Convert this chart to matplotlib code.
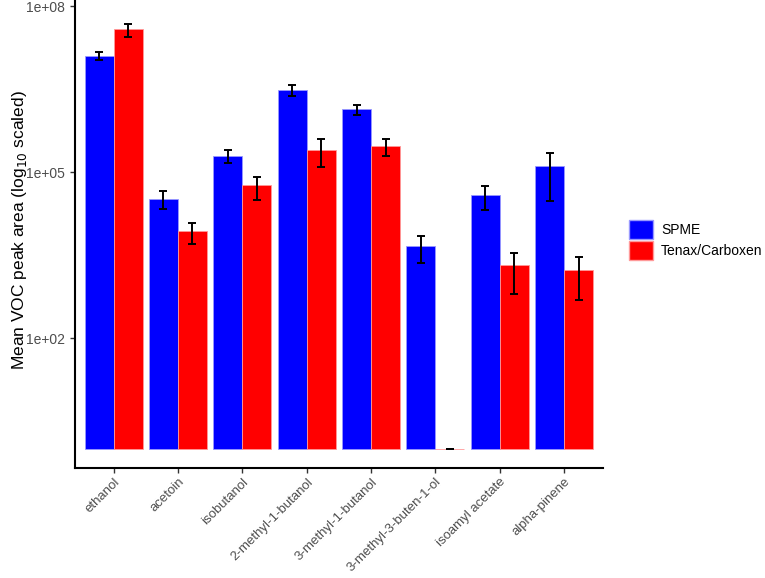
import numpy as np
import matplotlib
matplotlib.use("Agg")
import matplotlib.pyplot as plt
from matplotlib.patches import Patch

plt.rcParams['font.family'] = ['Liberation Sans', 'DejaVu Sans']

compounds = ["ethanol", "acetoin", "isobutanol", "2-methyl-1-butanol",
             "3-methyl-1-butanol", "3-methyl-3-buten-1-ol", "isoamyl acetate",
             "alpha-pinene"]

# mean peak areas and error bar limits
spme_mean = [1.26e7, 3.3e4, 2.0e5, 3.0e6, 1.36e6, 4.6e3, 3.8e4, 1.29e5]
spme_low = [1.06e7, 2.2e4, 1.48e5, 2.37e6, 1.10e6, 2.3e3, 2.1e4, 3.0e4]
spme_high = [1.5e7, 4.6e4, 2.5e5, 3.7e6, 1.66e6, 7.1e3, 5.6e4, 2.24e5]

tenax_mean = [3.8e7, 8.5e3, 5.8e4, 2.5e5, 2.95e5, 1, 2.1e3, 1.7e3]
tenax_low = [2.75e7, 5.0e3, 3.2e4, 1.26e5, 2.0e5, 1, 630, 490]
tenax_high = [4.7e7, 1.23e4, 8.1e4, 3.9e5, 3.9e5, 1, 3.5e3, 2.9e3]

groups = ["SPME", "Tenax/Carboxen"]
colors = ["#0000FF", "#FF0000"]
edges = ["#9999ff", "#ff9999"]

fig = plt.figure(figsize=(7.65, 5.78), dpi=100)
ax = fig.add_axes([75 / 765, 1 - 468.3 / 578, (602.7 - 75) / 765, 468.3 / 578 - 0.001])

x = np.arange(1, len(compounds) + 1)
w = 0.45
series = [(spme_mean, spme_low, spme_high), (tenax_mean, tenax_low, tenax_high)]
for i, (m, lo, hi) in enumerate(series):
    m = np.array(m, dtype=float)
    lo = np.array(lo, dtype=float)
    hi = np.array(hi, dtype=float)
    xs = x + (i - 0.5) * w
    ax.bar(xs, m - 1, bottom=1, width=w, color=colors[i], edgecolor=edges[i],
           linewidth=0.6, zorder=2)
    ax.errorbar(xs, m, yerr=[m - lo, hi - m], fmt='none', ecolor='black',
                elinewidth=1.4, capsize=2.6, capthick=1.4, zorder=3)

ax.set_yscale('log')
ax.set_ylim(10 ** -0.35, 10 ** 8.1)
ax.set_xlim(0.4, 8.6)
ax.set_yticks([1e2, 1e5, 1e8])
ax.set_yticklabels(["1e+02", "1e+05", "1e+08"])
ax.minorticks_off()
ax.set_xticks(x)
ax.set_xticklabels(compounds, rotation=45, ha='right', va='top',
                   rotation_mode='anchor')

ax.tick_params(axis='both', colors='#333333', labelcolor='#4D4D4D',
               labelsize=10, length=3.5, width=1)
ax.tick_params(axis='x', pad=2, labelsize=9.5)
for s in ['top', 'right']:
    ax.spines[s].set_visible(False)
for s in ['left', 'bottom']:
    ax.spines[s].set_linewidth(1.5)
    ax.spines[s].set_color('black')

fig.text(20 / 765, 1 - 230 / 578, "Mean VOC peak area (log$_{10}$ scaled)",
         rotation=90, ha='center', va='center', fontsize=12.5)

handles = [Patch(facecolor=colors[i], edgecolor=edges[i], label=groups[i])
           for i in range(2)]
fig.legend(handles=handles, loc='center left',
           bbox_to_anchor=(616 / 765, 1 - 240 / 578), frameon=False,
           fontsize=10, handlelength=1.75, handleheight=1.8,
           labelspacing=0.1, handletextpad=0.6)

fig.savefig("out.png", dpi=100)
